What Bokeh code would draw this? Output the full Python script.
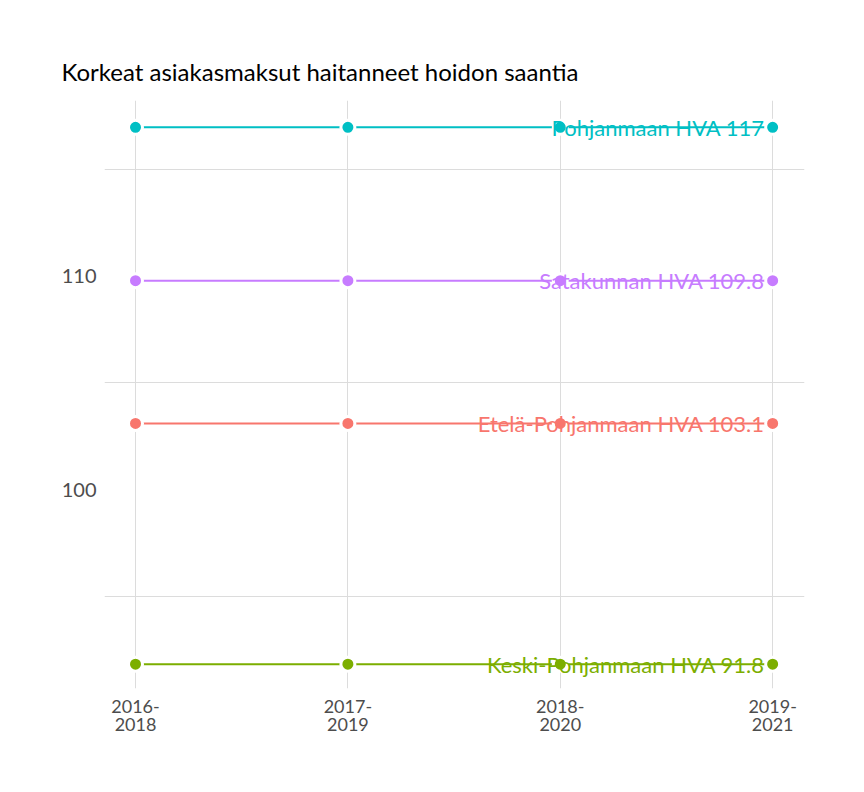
from bokeh.plotting import figure
from bokeh.models import FixedTicker, Range1d, ColumnDataSource
from bokeh.core.properties import value
from bokeh.embed import file_html
from bokeh.resources import INLINE

title = "Korkeat asiakasmaksut haitanneet hoidon saantia"
periods = ["2016-\n2018", "2017-\n2019", "2018-\n2020", "2019-\n2021"]
x_pos = [1, 2, 3, 4]
series_names = ["Etelä-Pohjanmaan HVA", "Keski-Pohjanmaan HVA", "Pohjanmaan HVA", "Satakunnan HVA"]
etela = [103.1, 103.1, 103.1, 103.1]
keski = [91.8, 91.8, 91.8, 91.8]
pohjanmaa = [117, 117, 117, 117]
satakunta = [109.8, 109.8, 109.8, 109.8]
colors = ["#F8766D", "#7CAE00", "#00BFC4", "#C77CFF"]
y_ticks = [100, 110]
y_minor = [95, 105, 115]

FONT = "Lato"

p = figure(width=848, height=776, output_backend="svg", toolbar_location=None,
           x_range=Range1d(0.854, 4.15), y_range=Range1d(90.66, 118.26),
           min_border_left=104, min_border_right=44, min_border_top=100, min_border_bottom=88)
p.outline_line_color = None
p.background_fill_color = "white"
p.border_fill_color = "white"

p.title.text = title
p.title.text_font = FONT
p.title.text_font_size = "24px"
p.title.text_font_style = "normal"
p.title.text_color = "black"
p.title.align = "left"
p.title.offset = -43
p.title.standoff = 29

p.xaxis.ticker = FixedTicker(ticks=x_pos)
p.xaxis.major_label_overrides = {x: lab for x, lab in zip(x_pos, periods)}
p.xaxis.major_label_text_font = FONT
p.xaxis.major_label_text_font_size = "18px"
p.xaxis.major_label_text_line_height = 0.85
p.xaxis.major_label_text_color = "#4d4d4d"
p.xaxis.major_label_standoff = 0
p.xaxis.axis_line_color = None
p.xaxis.major_tick_line_color = None
p.xaxis.minor_tick_line_color = None

p.yaxis.ticker = FixedTicker(ticks=y_ticks)
p.yaxis.major_label_text_font = FONT
p.yaxis.major_label_text_font_size = "20px"
p.yaxis.major_label_text_color = "#4d4d4d"
p.yaxis.major_label_standoff = 2
p.yaxis.axis_line_color = None
p.yaxis.major_tick_line_color = None
p.yaxis.minor_tick_line_color = None

p.xgrid.ticker = FixedTicker(ticks=x_pos)
p.xgrid.grid_line_color = "#dcdcdc"
p.xgrid.grid_line_width = 1
p.ygrid.ticker = FixedTicker(ticks=y_minor)
p.ygrid.grid_line_color = "#dcdcdc"
p.ygrid.grid_line_width = 1

all_series = [etela, keski, pohjanmaa, satakunta]
for vals, col in zip(all_series, colors):
    p.line(x_pos, vals, line_color=col, line_width=2)
for vals, col in zip(all_series, colors):
    p.scatter(x_pos, vals, size=14, fill_color=col, line_color="white", line_width=3)

lab_src = ColumnDataSource(dict(
    x=[x_pos[-1]] * len(all_series),
    y=[s[-1] for s in all_series],
    text=[f"{n} {s[-1]:g}" for n, s in zip(series_names, all_series)],
    color=colors,
))
p.text(x="x", y="y", text="text", source=lab_src, text_color="color",
       text_font=value(FONT), text_font_size="22px", text_align="right",
       text_baseline="middle", x_offset=-8)

open("out.html", "w").write(file_html(p, INLINE))
